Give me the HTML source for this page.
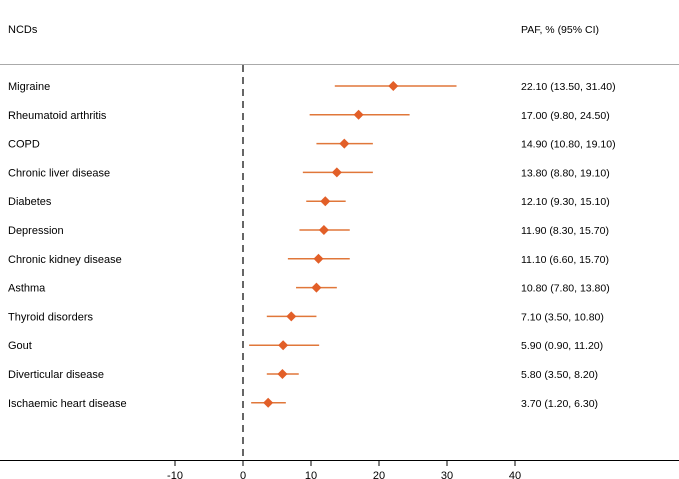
<!DOCTYPE html>
<html><head><meta charset="utf-8"><style>
html,body{margin:0;padding:0;background:#fff;}
svg{display:block;font-family:"Liberation Sans",Arial,sans-serif;}
</style></head><body>
<svg id="c" width="679" height="479" viewBox="0 0 679 479">
<text x="8" y="33" font-size="11" fill="#000">NCDs</text>
<text x="521" y="33" font-size="10.5" fill="#000">PAF, % (95% CI)</text>
<line x1="0" y1="64.5" x2="679" y2="64.5" stroke="#aaa" stroke-width="1"/>
<line x1="0" y1="460.5" x2="679" y2="460.5" stroke="#000" stroke-width="1"/>
<g id="ticks"></g>
<g id="rows"></g>
</svg>
<script>
const categories=["Migraine","Rheumatoid arthritis","COPD","Chronic liver disease","Diabetes","Depression","Chronic kidney disease","Asthma","Thyroid disorders","Gout","Diverticular disease","Ischaemic heart disease"];
const estimates=[22.10,17.00,14.90,13.80,12.10,11.90,11.10,10.80,7.10,5.90,5.80,3.70];
const lower=[13.50,9.80,10.80,8.80,9.30,8.30,6.60,7.80,3.50,0.90,3.50,1.20];
const upper=[31.40,24.50,19.10,19.10,15.10,15.70,15.70,13.80,10.80,11.20,8.20,6.30];
const tickValues=[-10,0,10,20,30,40];
const NS="http://www.w3.org/2000/svg";
const xs=v=>243+v*6.8;
const ys=i=>86+i*28.8;
const svg=document.getElementById('c');
function mk(t,a,p){const e=document.createElementNS(NS,t);for(const k in a)e.setAttribute(k,a[k]);(p||svg).appendChild(e);return e;}
const tg=document.getElementById('ticks'),rg=document.getElementById('rows');
const z=mk('line',{x1:xs(0),y1:65,x2:xs(0),y2:460,stroke:'#333','stroke-width':1.5,'stroke-dasharray':'7,5'},tg);


tickValues.forEach(v=>{
 const l=mk('line',{x1:xs(v),y1:460,x2:xs(v),y2:466,stroke:'#000','stroke-width':1},tg);
 
 
 const t=mk('text',{x:xs(v),y:479,'font-size':11,'text-anchor':'middle',fill:'#000'},tg);
 t.textContent=v;
 
 
});
categories.forEach((c,i)=>{
 const y=ys(i);
 const lb=mk('text',{x:8,y:y+4,'font-size':11,fill:'#000'},rg);
 lb.textContent=c;
 
 
 const ci=mk('line',{x1:xs(lower[i]),y1:y,x2:xs(upper[i]),y2:y,stroke:'#e0773a','stroke-width':1.5},rg);
 
 
 const x=xs(estimates[i]);
 const d=mk('polygon',{points:`${x},${y-5} ${x+5},${y} ${x},${y+5} ${x-5},${y}`,fill:'#e25f28'},rg);
 
 
 const v=mk('text',{x:521,y:y+4,'font-size':10.5,fill:'#000'},rg);
 v.textContent=`${estimates[i].toFixed(2)} (${lower[i].toFixed(2)}, ${upper[i].toFixed(2)})`;
 
 
});
</script>
</body></html>
